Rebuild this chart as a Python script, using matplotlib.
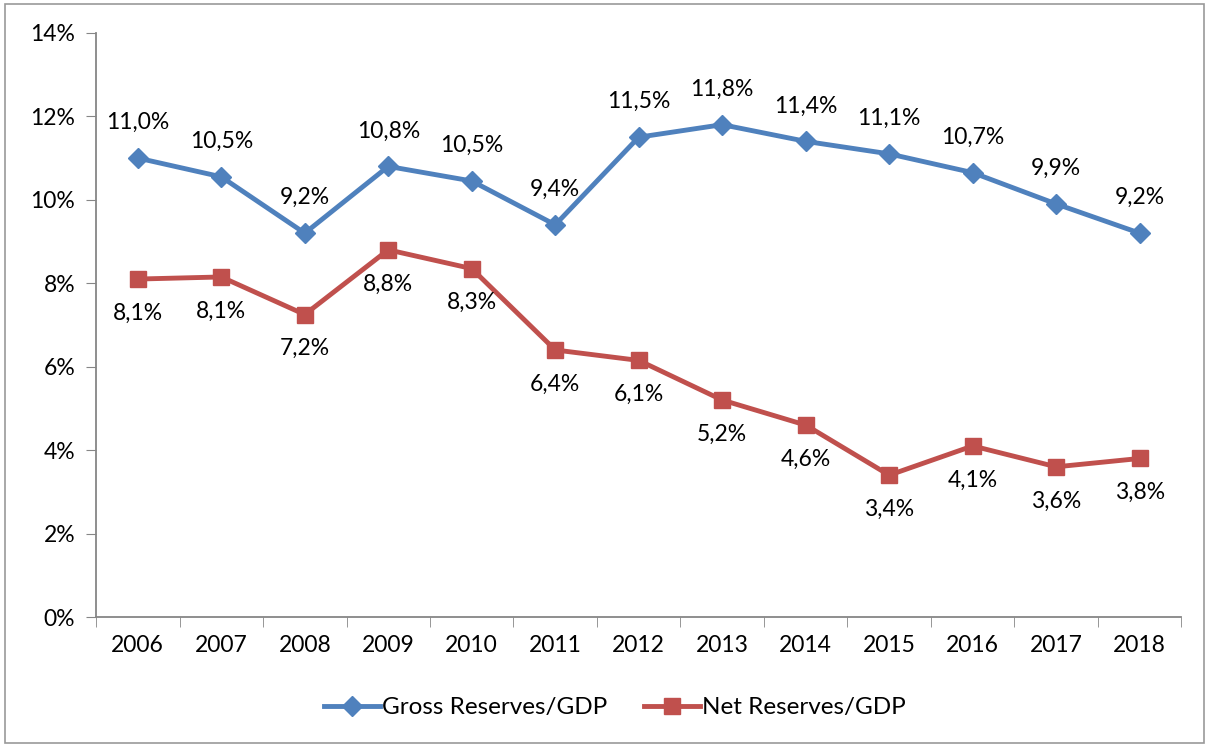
import matplotlib.pyplot as plt
from matplotlib.patches import Rectangle

years = ['2006', '2007', '2008', '2009', '2010', '2011', '2012',
         '2013', '2014', '2015', '2016', '2017', '2018']
gross = [11.0, 10.55, 9.2, 10.8, 10.45, 9.4, 11.5, 11.8, 11.4, 11.1, 10.65, 9.9, 9.2]
net = [8.1, 8.15, 7.25, 8.8, 8.35, 6.4, 6.15, 5.2, 4.6, 3.4, 4.1, 3.6, 3.8]
gross_labels = ['11,0%', '10,5%', '9,2%', '10,8%', '10,5%', '9,4%', '11,5%',
                '11,8%', '11,4%', '11,1%', '10,7%', '9,9%', '9,2%']
net_labels = ['8,1%', '8,1%', '7,2%', '8,8%', '8,3%', '6,4%', '6,1%',
              '5,2%', '4,6%', '3,4%', '4,1%', '3,6%', '3,8%']

plt.rcParams['font.family'] = ['Lato', 'DejaVu Sans']
blue = '#4F81BD'
red = '#C0504D'
fs = 16.5

fig = plt.figure(figsize=(12.08, 7.47), dpi=100)
ax = fig.add_axes([0.0795, 0.174, 0.8985, 0.782])

x = list(range(len(years)))
ax.plot(x, gross, color=blue, lw=3.5, marker='D', ms=10, label='Gross Reserves/GDP')
ax.plot(x, net, color=red, lw=3.5, marker='s', ms=11, label='Net Reserves/GDP')

for xi, v, t in zip(x, gross, gross_labels):
    ax.annotate(t, (xi, v), xytext=(0, 18), textcoords='offset points',
                ha='center', va='bottom', fontsize=fs)
for xi, v, t in zip(x, net, net_labels):
    ax.annotate(t, (xi, v), xytext=(0, -17), textcoords='offset points',
                ha='center', va='top', fontsize=fs)

ax.set_xlim(-0.5, len(years) - 0.5)
ax.set_ylim(0, 14)
ax.set_yticks(range(0, 15, 2))
ax.set_yticklabels([f'{v}%' for v in range(0, 15, 2)], fontsize=fs)
ax.set_xticks(x)
ax.set_xticklabels(years, fontsize=fs)
ax.set_xticks([i - 0.5 for i in range(len(years) + 1)], minor=True)
ax.tick_params(axis='x', which='major', length=0, pad=13)
ax.tick_params(axis='x', which='minor', length=7, color='#868686', direction='out')
ax.tick_params(axis='y', length=7, color='#868686', pad=8)
for s in ['top', 'right']:
    ax.spines[s].set_visible(False)
for s in ['left', 'bottom']:
    ax.spines[s].set_color('#868686')
    ax.spines[s].set_linewidth(1.3)

ax.legend(loc='upper center', bbox_to_anchor=(0.478, -0.1), ncol=2, frameon=False,
          fontsize=17.5, handlelength=2.3, handletextpad=0.1, columnspacing=1.5)

fig.patches.append(Rectangle((0.004, 0.006), 0.993, 0.988, transform=fig.transFigure,
                             fill=False, edgecolor='#999999', lw=1.2))

fig.savefig('out.png', dpi=100)
